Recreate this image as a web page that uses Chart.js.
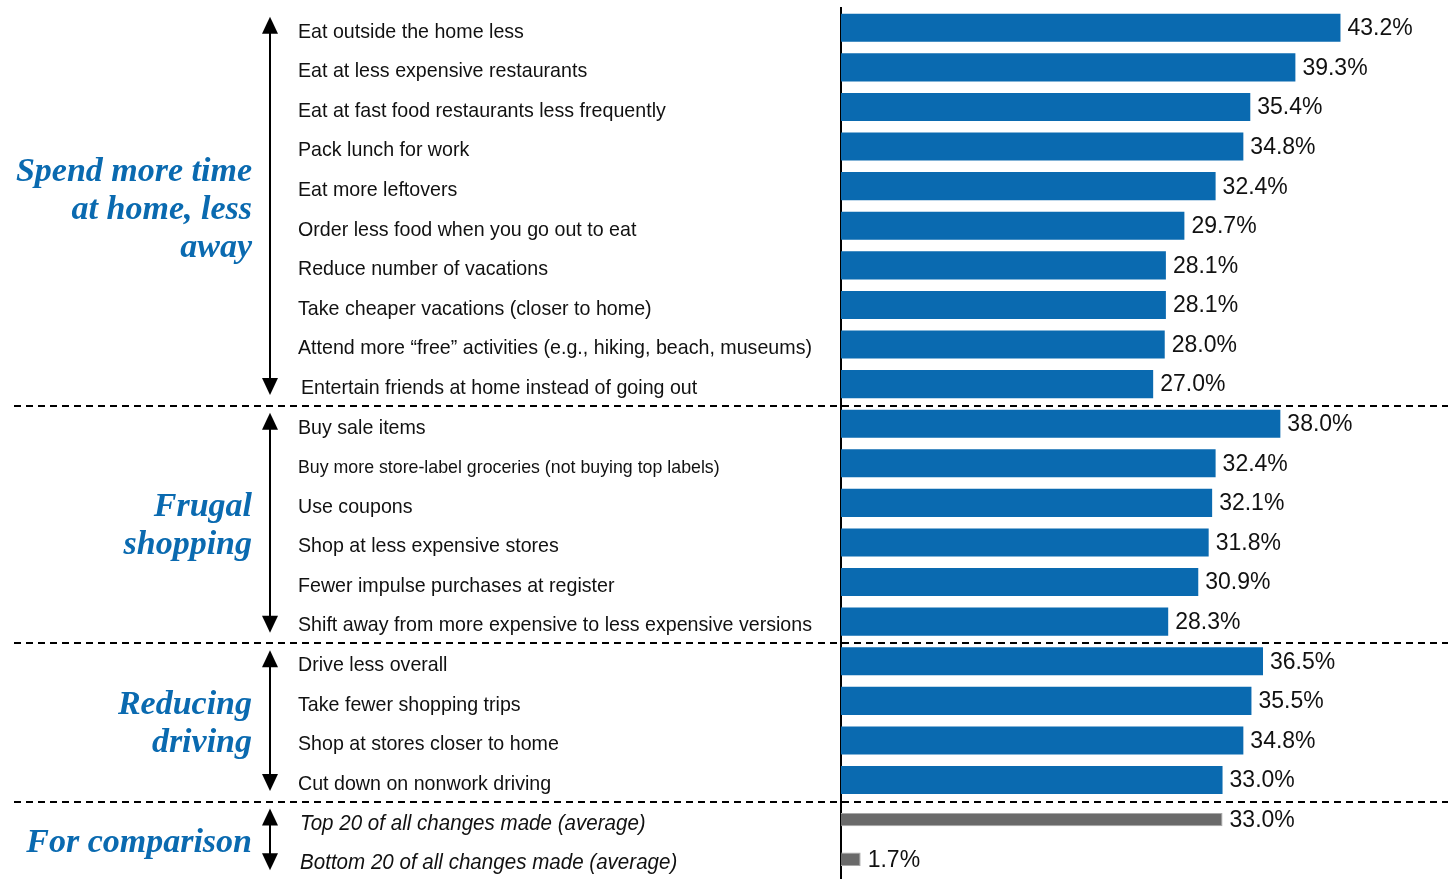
<!DOCTYPE html>
<html>
<head>
<meta charset="utf-8">
<script src="https://cdn.jsdelivr.net/npm/chart.js@4/dist/chart.umd.min.js"></script>
<style>
  html, body { margin: 0; padding: 0; background: #fff; }
  #wrap { width: 1448px; height: 879px; position: relative; }
</style>
</head>
<body>
<div id="wrap"><canvas id="changesChart"></canvas></div>
<script>
const categories = [
    'Eat outside the home less',
    'Eat at less expensive restaurants',
    'Eat at fast food restaurants less frequently',
    'Pack lunch for work',
    'Eat more leftovers',
    'Order less food when you go out to eat',
    'Reduce number of vacations',
    'Take cheaper vacations (closer to home)',
    'Attend more \u201cfree\u201d activities (e.g., hiking, beach, museums)',
    'Entertain friends at home instead of going out',
    'Buy sale items',
    'Buy more store-label groceries (not buying top labels)',
    'Use coupons',
    'Shop at less expensive stores',
    'Fewer impulse purchases at register',
    'Shift away from more expensive to less expensive versions',
    'Drive less overall',
    'Take fewer shopping trips',
    'Shop at stores closer to home',
    'Cut down on nonwork driving',
    'Top 20 of all changes made (average)',
    'Bottom 20 of all changes made (average)'
];

const changeValues = [
    43.2, 39.3, 35.4, 34.8, 32.4, 29.7, 28.1, 28.1, 28.0, 27.0,
    38.0, 32.4, 32.1, 31.8, 30.9, 28.3,
    36.5, 35.5, 34.8, 33.0,
    null, null
];

const comparisonValues = [
    null, null, null, null, null, null, null, null, null, null,
    null, null, null, null, null, null,
    null, null, null, null,
    33.0, 1.7
];

const groupNames = [
    ['Spend more time', 'at home, less', 'away'],
    ['Frugal', 'shopping'],
    ['Reducing', 'driving'],
    ['For comparison']
];
const groupSizes = [10, 6, 4, 2];

const LABEL_FONT = '"Liberation Sans", Arial, sans-serif';
const GROUP_FONT = '"Liberation Serif", "DejaVu Serif", serif';
const BLUE = '#0a6ab0';
const NARROW = 0.935; // horizontal squeeze for the row labels

// value labels to the right of each bar
const valueLabels = {
    id: 'valueLabels',
    afterDatasetsDraw(chart) {
        const ctx = chart.ctx;
        ctx.save();
        ctx.font = '23px "Liberation Sans", Arial, sans-serif';
        ctx.fillStyle = '#111';
        ctx.textBaseline = 'middle';
        ctx.textAlign = 'left';
        chart.data.datasets.forEach((ds, di) => {
            const meta = chart.getDatasetMeta(di);
            meta.data.forEach((bar, i) => {
                const v = ds.data[i];
                if (v === null) return;
                ctx.fillText(v.toFixed(1) + '%', bar.x + 7, bar.y + 1);
            });
        });
        ctx.restore();
    }
};

function arrowHead(ctx, x, y, dir) {
    ctx.beginPath();
    ctx.moveTo(x, y);
    ctx.lineTo(x - 8, y - 17 * dir);
    ctx.lineTo(x + 8, y - 17 * dir);
    ctx.closePath();
    ctx.fill();
}

// category text, group titles, arrows and separators on the left
const sideDecor = {
    id: 'sideDecor',
    afterDraw(chart) {
        const ctx = chart.ctx;
        const yScale = chart.scales.y;
        const band = yScale.getPixelForValue(1) - yScale.getPixelForValue(0);
        ctx.save();

        // category labels, squeezed to look like a narrow face
        ctx.fillStyle = '#111';
        ctx.textBaseline = 'middle';
        ctx.textAlign = 'left';
        categories.forEach((label, i) => {
            let size = 21;
            let style = '';
            let x = 298;
            if (i === 11) size = 19;
            if (i === 9) x = 301;
            if (i >= 20) { style = 'italic '; size = 22; x = 300; }
            ctx.font = style + size + 'px ' + LABEL_FONT;
            ctx.save();
            ctx.translate(x, yScale.getPixelForValue(i) + 4);
            ctx.scale(NARROW, 1);
            ctx.fillText(label, 0, 0);
            ctx.restore();
        });

        // groups
        let start = 0;
        groupSizes.forEach((n, g) => {
            const first = yScale.getPixelForValue(start);
            const last = yScale.getPixelForValue(start + n - 1);
            const top = first - band / 2;
            const bottom = last + band / 2;

            // arrow
            const ax = 270;
            const y1 = first - 11;
            const y2 = last + 11;
            ctx.strokeStyle = '#000';
            ctx.fillStyle = '#000';
            ctx.lineWidth = 2;
            ctx.beginPath();
            ctx.moveTo(ax, y1 + 10);
            ctx.lineTo(ax, y2 - 10);
            ctx.stroke();
            arrowHead(ctx, ax, y1, -1);
            arrowHead(ctx, ax, y2, 1);

            // group title
            const lines = groupNames[g];
            const lh = 38;
            const mid = (top + bottom) / 2 + 4;
            ctx.font = 'italic bold 34px ' + GROUP_FONT;
            ctx.fillStyle = BLUE;
            ctx.textAlign = 'right';
            lines.forEach((t, k) => {
                ctx.fillText(t, 252, mid + (k - (lines.length - 1) / 2) * lh);
            });
            ctx.textAlign = 'left';
            ctx.fillStyle = '#111';

            // separator below the group
            if (start + n < categories.length) {
                ctx.setLineDash([7, 5]);
                ctx.lineWidth = 2;
                ctx.strokeStyle = '#000';
                ctx.beginPath();
                ctx.moveTo(14, Math.round(bottom) + 2);
                ctx.lineTo(1448, Math.round(bottom) + 2);
                ctx.stroke();
                ctx.setLineDash([]);
            }
            start += n;
        });
        ctx.restore();
    }
};

new Chart(document.getElementById('changesChart'), {
    type: 'bar',
    data: {
        labels: categories,
        datasets: [
            {
                label: 'Changes',
                data: changeValues,
                backgroundColor: BLUE,
                barPercentage: 0.71,
                categoryPercentage: 1.0,
                grouped: false
            },
            {
                label: 'Comparison',
                data: comparisonValues,
                backgroundColor: '#6a6a6a',
                borderColor: '#a8a8a8',
                borderWidth: 1,
                barPercentage: 0.34,
                categoryPercentage: 1.0,
                grouped: false
            }
        ]
    },
    options: {
        indexAxis: 'y',
        responsive: true,
        maintainAspectRatio: false,
        animation: false,
        layout: { padding: { top: 8, right: 0, bottom: 0, left: 0 } },
        plugins: {
            legend: { display: false },
            tooltip: { enabled: false }
        },
        scales: {
            x: {
                display: false,
                min: 0,
                max: 52.5
            },
            y: {
                display: true,
                afterFit(scale) { scale.width = 841; },
                ticks: { display: false },
                grid: { display: false, drawTicks: false },
                border: { display: true, color: '#000', width: 2 }
            }
        }
    },
    plugins: [valueLabels, sideDecor]
});
</script>
</body>
</html>
